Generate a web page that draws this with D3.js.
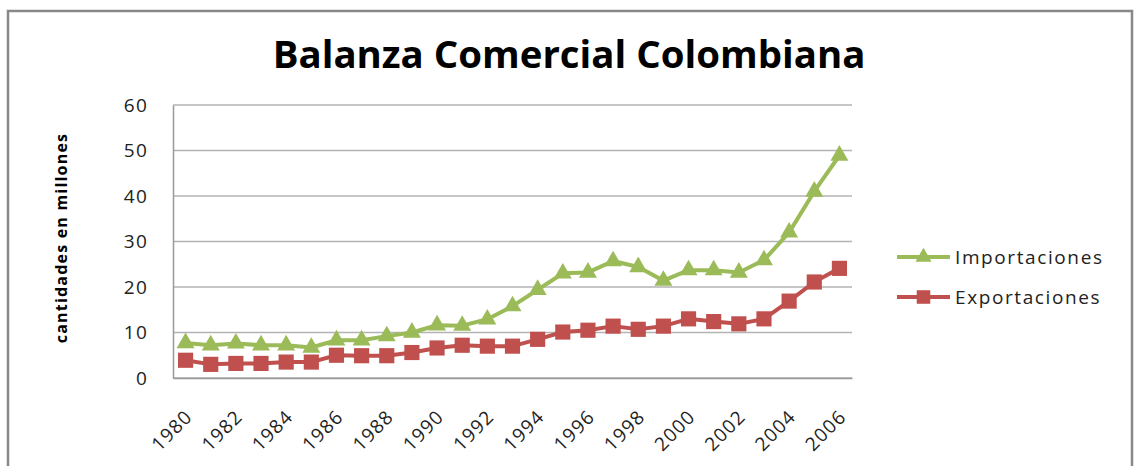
<!DOCTYPE html>
<html>
<head>
<meta charset="utf-8">
<script src="https://cdn.jsdelivr.net/npm/d3@7"></script>
<style>
  body { margin: 0; background: #fff; }
  svg { display: block; }
</style>
</head>
<body>
<div id="chart"></div>
<script>
// data
const years = d3.range(1980, 2007);
const importaciones = [7.7, 7.2, 7.6, 7.2, 7.2, 6.7, 8.3, 8.3, 9.2, 10.0, 11.6, 11.5, 12.9,
  15.8, 19.4, 23.0, 23.2, 25.7, 24.4, 21.4, 23.7, 23.7, 23.2, 25.9, 32.0, 41.0, 48.9];
const exportaciones = [3.9, 3.0, 3.2, 3.2, 3.5, 3.5, 5.0, 4.9, 4.9, 5.6, 6.6, 7.2, 7.0,
  7.0, 8.5, 10.1, 10.5, 11.4, 10.7, 11.4, 13.0, 12.4, 11.9, 13.0, 16.9, 21.1, 24.1];
const yTicks = [0, 10, 20, 30, 40, 50, 60];
const xTickLabels = years.filter(y => y % 2 === 0);

const W = 1140, H = 466;
const margin = { top: 105, left: 173, right: 288, bottom: 88 };
const font = "'Open Sans', 'Noto Sans', sans-serif";

const svg = d3.select("#chart").append("svg")
  .attr("width", W).attr("height", H);

// outer frame
svg.append("rect")
  .attr("x", 8).attr("y", 11)
  .attr("width", 1124).attr("height", 470)
  .attr("fill", "#fff").attr("stroke", "#888").attr("stroke-width", 2.5);

const width = W - margin.left - margin.right,
  height = H - margin.top - margin.bottom;

const g = svg.append("g")
  .attr("transform", "translate(" + margin.left + "," + margin.top + ")");

const x = d3.scaleBand().domain(years).range([0, width]);
const y = d3.scaleLinear().domain([0, 60]).range([height, 0]);
const cx = d => x(d) + x.bandwidth() / 2;

// gridlines
g.append("g")
  .selectAll("line")
  .data(yTicks)
  .join("line")
  .attr("x1", 0).attr("x2", width)
  .attr("y1", d => y(d)).attr("y2", d => y(d))
  .attr("stroke", "#b3b3b3").attr("stroke-width", 1.5);

// y axis
const yaxis = g.append("g").call(d3.axisLeft(y).tickValues(yTicks).tickSize(0).tickPadding(25));
yaxis.select(".domain").attr("stroke", "#999").attr("stroke-width", 1.5);
yaxis.selectAll("text").attr("font-family", font).attr("font-size", 19)
  .attr("letter-spacing", 1.2).attr("fill", "#222");

// x axis
const xaxis = g.append("g")
  .attr("transform", "translate(0," + height + ")")
  .call(d3.axisBottom(x).tickValues(xTickLabels).tickSize(0).tickPadding(0));
xaxis.select(".domain").attr("stroke", "#999").attr("stroke-width", 1.5);
xaxis.selectAll("text")
  .attr("font-family", font).attr("font-size", 19).attr("letter-spacing", 1.2).attr("fill", "#222")
  .attr("dy", null).attr("y", 0)
  .attr("text-anchor", "end")
  .attr("transform", "translate(8,40)rotate(-45)");

// series
const series = [
  { name: "Importaciones", values: importaciones, color: "#9BBB59", shape: d3.symbolTriangle, size: 140 },
  { name: "Exportaciones", values: exportaciones, color: "#C0504D", shape: d3.symbolSquare, size: 230 }
];

const line = d3.line().x((d, i) => cx(years[i])).y(d => y(d));

series.forEach(s => {
  g.append("path")
    .datum(s.values)
    .attr("fill", "none")
    .attr("stroke", s.color)
    .attr("stroke-width", 4)
    .attr("stroke-linejoin", "round")
    .attr("d", line);
  g.append("g")
    .selectAll("path")
    .data(s.values)
    .join("path")
    .attr("transform", (d, i) => "translate(" + cx(years[i]) + "," + y(d) + ")")
    .attr("d", d3.symbol(s.shape, s.size))
    .attr("fill", s.color);
});

// legend
const legend = svg.append("g").attr("transform", "translate(897,257)");
series.forEach((s, i) => {
  const row = legend.append("g").attr("transform", "translate(0," + i * 40 + ")");
  row.append("line").attr("x1", 0).attr("x2", 53).attr("y1", 0).attr("y2", 0)
    .attr("stroke", s.color).attr("stroke-width", 4);
  row.append("path").attr("transform", "translate(26.5,0)")
    .attr("d", d3.symbol(s.shape, s.size * 0.8)).attr("fill", s.color);
  row.append("text").attr("x", 58).attr("y", 7)
    .attr("font-family", font).attr("font-size", 19).attr("letter-spacing", 1.6).attr("fill", "#222")
    .text(s.name);
});

// title
const title = svg.append("text")
  .attr("x", 569).attr("y", 68)
  .attr("text-anchor", "middle")
  .attr("font-family", font).attr("font-weight", "bold").attr("font-size", 34)
  .attr("fill", "#000")
  .text("Balanza Comercial Colombiana");
const tw = title.node().getComputedTextLength();
title.attr("font-size", 34 * 593 / tw);

// y axis title
svg.append("text")
  .attr("transform", "translate(67,238)rotate(-90)")
  .attr("text-anchor", "middle")
  .attr("font-family", font).attr("font-weight", "bold").attr("font-size", 16)
  .attr("letter-spacing", 1.2)
  .attr("fill", "#000")
  .text("cantidades en millones");
</script>
</body>
</html>
